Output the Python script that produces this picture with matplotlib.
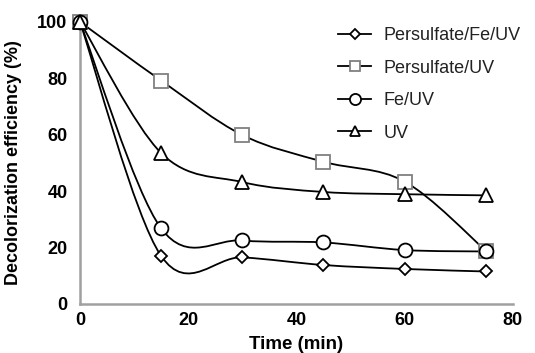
import numpy as np
import matplotlib
matplotlib.use("Agg")
import matplotlib.pyplot as plt
from matplotlib.path import Path
from matplotlib.patches import PathPatch
from matplotlib.lines import Line2D

time = [0, 15, 30, 45, 60, 75]
ps_fe_uv = [100, 17.0, 16.5, 13.8, 12.4, 11.5]
ps_uv = [100, 79.2, 59.9, 50.4, 43.4, 18.9]
fe_uv = [100, 26.8, 22.5, 21.8, 19.1, 18.6]
uv = [100, 53.5, 43.2, 39.7, 38.9, 38.5]

series_names = ["Persulfate/Fe/UV", "Persulfate/UV", "Fe/UV", "UV"]
x_ticks = [0, 20, 40, 60, 80]
y_ticks = [0, 20, 40, 60, 80, 100]

plt.rcParams['font.family'] = ['Liberation Sans', 'DejaVu Sans']

fig = plt.figure(figsize=(5.35, 3.53), dpi=100)
ax = fig.add_axes([0.1495, 0.139, 0.809, 0.799])


def smooth_path(x, y):
    x = np.asarray(x, float)
    y = np.asarray(y, float)
    n = len(x)
    verts = [(x[0], y[0])]
    codes = [Path.MOVETO]
    for i in range(n - 1):
        p0 = np.array([x[max(i - 1, 0)], y[max(i - 1, 0)]])
        p1 = np.array([x[i], y[i]])
        p2 = np.array([x[i + 1], y[i + 1]])
        p3 = np.array([x[min(i + 2, n - 1)], y[min(i + 2, n - 1)]])
        c1 = p1 + (p2 - p0) / 6.0
        c2 = p2 - (p3 - p1) / 6.0
        verts += [tuple(c1), tuple(c2), tuple(p2)]
        codes += [Path.CURVE4] * 3
    return Path(verts, codes)


specs = [
    (ps_fe_uv, 'D', 'black', 6.5),
    (ps_uv, 's', '#808080', 9.5),
    (fe_uv, 'o', 'black', 10),
    (uv, '^', 'black', 9.5),
]
handles = []
for (vals, m, ec, ms), name in zip(specs, series_names):
    patch = PathPatch(smooth_path(time, vals), facecolor='none', edgecolor='black', lw=1.3, zorder=2)
    ax.add_patch(patch)
    ax.plot(time, vals, linestyle='none', marker=m, markersize=ms, markerfacecolor='white',
            markeredgecolor=ec, markeredgewidth=1.3, zorder=3, clip_on=False)
    handles.append(Line2D([], [], color='black', lw=1.3, marker=m, markersize=ms * 0.8,
                          markerfacecolor='white', markeredgecolor=ec, markeredgewidth=1.3))

ax.set_xlim(0, 80)
ax.set_ylim(0, 100)
ax.set_xticks(x_ticks)
ax.set_yticks(y_ticks)
ax.tick_params(axis='y', length=0, pad=9, labelsize=13)
ax.tick_params(axis='x', length=0, pad=6, labelsize=13)
for lab in ax.get_xticklabels() + ax.get_yticklabels():
    lab.set_fontweight('bold')
for s in ['top', 'right']:
    ax.spines[s].set_visible(False)
for s in ['left', 'bottom']:
    ax.spines[s].set_color('#a0a0a0')
    ax.spines[s].set_linewidth(1.8)

ax.set_xlabel('Time (min)', fontsize=13.5, fontweight='bold', labelpad=5)
ax.set_ylabel('Decolorization efficiency (%)', fontsize=13, fontweight='bold', labelpad=11)

leg = fig.legend(handles, series_names, loc='upper right', bbox_to_anchor=(0.997, 0.958), frameon=False,
                 fontsize=13, labelspacing=0.85, handlelength=1.8, handletextpad=0.7, borderpad=0.2)
for t in leg.get_texts():
    t.set_color('#222222')

fig.savefig('out.png', dpi=100)
